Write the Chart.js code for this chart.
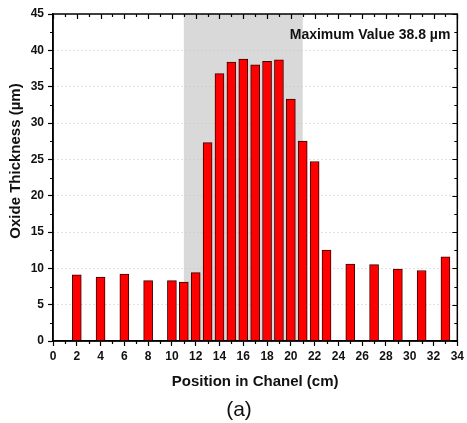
<!DOCTYPE html>
<html lang="en">
<head>
<meta charset="UTF-8">
<title>Oxide Thickness along the Channel</title>
<script src="https://cdn.jsdelivr.net/npm/chart.js"></script>
<style>
  body { margin: 0; background: #fff; }
  canvas { display: block; }
</style>
</head>
<body>
<canvas id="thicknessChart" width="467" height="423"></canvas>
<script>
// measured oxide thickness (um) at each position along the channel (cm)
const positions = [2, 4, 6, 8, 10, 11, 12, 13, 14, 15, 16, 17, 18, 19, 20, 21, 22, 23, 25, 27, 29, 31, 33];
const thickness = [9.1, 8.8, 9.2, 8.3, 8.3, 8.1, 9.4, 27.3, 36.8, 38.4, 38.8, 38.0, 38.5, 38.7, 33.3, 27.5, 24.7, 12.5, 10.6, 10.5, 9.9, 9.7, 11.6];

// grey zone of the channel (cm)
const zoneStart = 11;
const zoneEnd = 21;

const xTickValues = [0, 2, 4, 6, 8, 10, 12, 14, 16, 18, 20, 22, 24, 26, 28, 30, 32, 34];
const yTickValues = [0, 5, 10, 15, 20, 25, 30, 35, 40, 45];

const FONT = "'Liberation Sans', Arial, sans-serif";
Chart.defaults.font.family = FONT;
Chart.defaults.color = '#111';

// midpoints between major ticks
function minorOf(values) {
    const out = [];
    for (let i = 0; i < values.length - 1; i++) out.push((values[i] + values[i + 1]) / 2);
    return out;
}

// grey zone, box frame with inward ticks, minor ticks and the extra texts
const decorations = {
    id: 'decorations',
    beforeDraw(chart) {
        const { ctx, chartArea: a, scales: { x } } = chart;
        ctx.save();
        ctx.fillStyle = '#fff';
        ctx.fillRect(0, 0, chart.width, chart.height);
        const x0 = x.getPixelForValue(zoneStart);
        const x1 = x.getPixelForValue(zoneEnd);
        ctx.fillStyle = '#d9d9d9';
        ctx.fillRect(x0, a.top, x1 - x0, a.bottom - a.top);
        ctx.restore();
    },
    afterDraw(chart) {
        const { ctx, chartArea: a, scales: { x, y } } = chart;
        ctx.save();
        ctx.strokeStyle = '#000';
        ctx.lineWidth = 1.5;
        ctx.strokeRect(a.left, a.top, a.right - a.left, a.bottom - a.top);

        ctx.lineWidth = 1.2;
        ctx.beginPath();
        xTickValues.forEach(v => {
            const px = Math.round(x.getPixelForValue(v)) + 0.5;
            ctx.moveTo(px, a.top); ctx.lineTo(px, a.top + 5);
        });
        minorOf(xTickValues).forEach(v => {
            const px = Math.round(x.getPixelForValue(v)) + 0.5;
            ctx.moveTo(px, a.top); ctx.lineTo(px, a.top + 3);
            ctx.moveTo(px, a.bottom); ctx.lineTo(px, a.bottom + 3);
        });
        yTickValues.forEach(v => {
            const py = Math.round(y.getPixelForValue(v)) + 0.5;
            ctx.moveTo(a.right, py); ctx.lineTo(a.right - 5, py);
        });
        minorOf(yTickValues).forEach(v => {
            const py = Math.round(y.getPixelForValue(v)) + 0.5;
            ctx.moveTo(a.left, py); ctx.lineTo(a.left - 3, py);
            ctx.moveTo(a.right, py); ctx.lineTo(a.right - 3, py);
        });
        ctx.stroke();

        ctx.fillStyle = '#111';
        ctx.font = 'bold 14px ' + FONT;
        ctx.textAlign = 'right';
        ctx.textBaseline = 'middle';
        ctx.fillText('Maximum Value ' + Math.max(...thickness) + ' \u00b5m', a.right - 7, a.top + 21);

        ctx.save();
        ctx.font = 'bold 15px ' + FONT;
        ctx.translate(16, 161);
        ctx.rotate(-Math.PI / 2);
        ctx.textAlign = 'center';
        ctx.fillText('Oxide Thickness (\u00b5m)', 0, 0);
        ctx.restore();

        ctx.font = '21px ' + FONT;
        ctx.textAlign = 'center';
        ctx.fillText('(a)', 239, 410);
        ctx.restore();
    }
};

new Chart(document.getElementById('thicknessChart'), {
    type: 'bar',
    data: {
        datasets: [{
            data: positions.map((p, i) => ({ x: p, y: thickness[i] })),
            backgroundColor: '#ff0000',
            borderColor: '#3a0000',
            borderWidth: 1,
            barThickness: 9
        }]
    },
    options: {
        responsive: false,
        animation: false,
        layout: { padding: { top: 14, right: 9, left: 0, bottom: 0 } },
        plugins: { legend: { display: false }, tooltip: { enabled: false } },
        scales: {
            x: {
                type: 'linear',
                min: 0,
                max: 34,
                offset: false,
                afterBuildTicks: s => { s.ticks = xTickValues.map(v => ({ value: v })); },
                afterFit: s => { s.height = 82; },
                grid: { offset: false, drawOnChartArea: false, tickLength: 5, tickColor: '#000', tickWidth: 1.2 },
                border: { color: '#000', width: 1.5 },
                ticks: { font: { size: 12, weight: 'bold' }, padding: 3, maxRotation: 0, autoSkip: false },
                title: {
                    display: true,
                    text: 'Position in Chanel (cm)',
                    font: { size: 15, weight: 'bold' },
                    padding: { top: 0, bottom: 32 }
                }
            },
            y: {
                min: 0,
                max: 45,
                afterBuildTicks: s => { s.ticks = yTickValues.map(v => ({ value: v })); },
                afterFit: s => { s.width = 53; },
                grid: {
                    color: c => (c.tick.value > 0 && c.tick.value < 45) ? '#c4c4c4' : 'rgba(0,0,0,0)',
                    tickColor: '#000',
                    tickWidth: 1.2,
                    tickLength: 5
                },
                border: { color: '#000', width: 1.5, dash: [1, 3] },
                ticks: { font: { size: 12, weight: 'bold' }, padding: 4 }
            }
        }
    },
    plugins: [decorations]
});
</script>
</body>
</html>
